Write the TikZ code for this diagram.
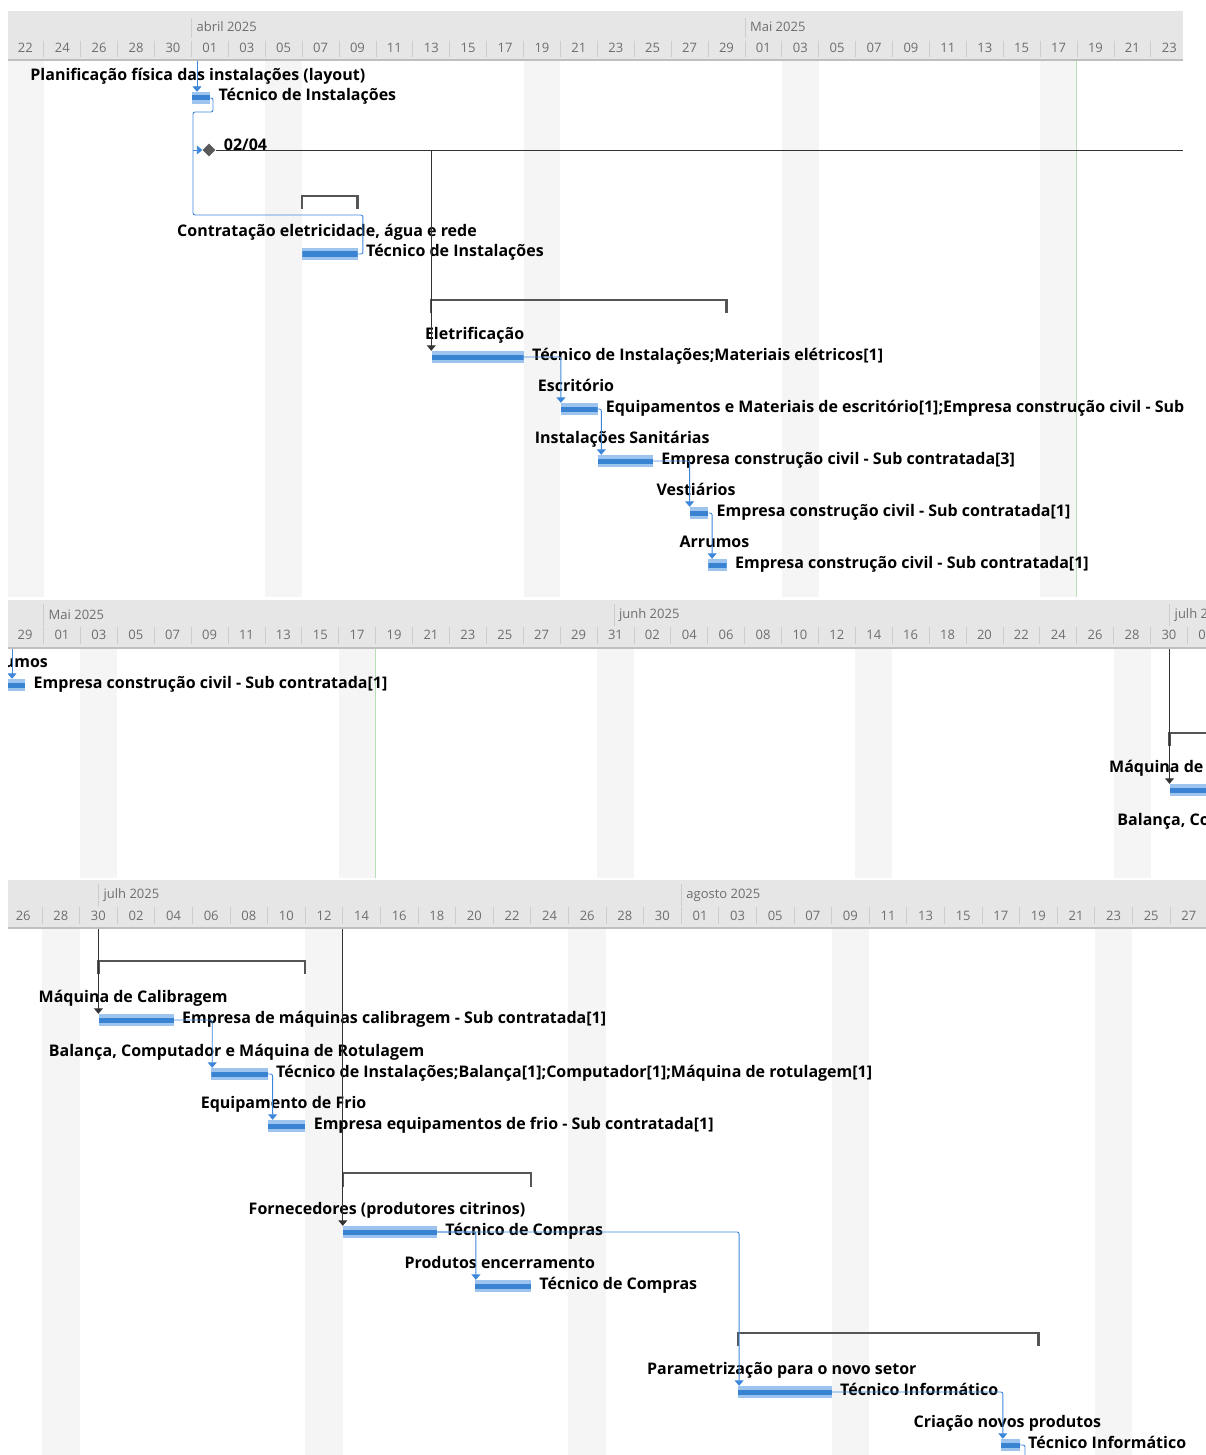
\documentclass[tikz,border=0pt]{standalone}
\usepackage{fontspec}
\setmainfont{Open Sans}
\usetikzlibrary{arrows.meta,positioning,calc,shapes.geometric}
\definecolor{hdrgray}{HTML}{E6E6E6}
\definecolor{hdrtext}{HTML}{6E6E6E}
\definecolor{hdrline}{HTML}{CDCDCD}
\definecolor{wkend}{HTML}{F5F5F5}
\definecolor{barlight}{HTML}{9CC4EE}
\definecolor{bardark}{HTML}{3A82D2}
\definecolor{linkblue}{HTML}{3D87DB}
\definecolor{summgray}{HTML}{555555}
\definecolor{todaygreen}{HTML}{B9DDB4}
\tikzset{
  taskbar/.style={rectangle,inner sep=0pt,minimum height=12pt,fill=barlight,anchor=west,
    path picture={\fill[bardark] ([yshift=2.5pt]path picture bounding box.west) rectangle ([yshift=-2.5pt]path picture bounding box.east);}},
  tname/.style={font=\bfseries\fontsize{16}{19}\selectfont,inner sep=0pt,anchor=base},
  tres/.style={font=\bfseries\fontsize{16}{19}\selectfont,inner sep=0pt,anchor=base west},
  mstone/.style={diamond,fill=black!65,inner sep=0pt,minimum size=13pt},
  blink/.style={draw=linkblue,line width=0.9pt,rounded corners=2pt,-{Triangle[length=5.5pt,width=9pt]}},
  klink/.style={draw=black!80,line width=0.9pt,-{Triangle[length=5.5pt,width=9pt]}},
  summ/.style={draw=summgray,line width=2.2pt},
  hdr/.style={fill=hdrgray},
  hdrbase/.style={draw=black!25,line width=1.2pt},
  daylbl/.style={font=\fontsize{13}{15}\selectfont,text=hdrtext,inner sep=0pt},
  monlbl/.style={font=\fontsize{13}{15}\selectfont,text=hdrtext,inner sep=0pt,anchor=west},
  daysep/.style={draw=hdrline,line width=0.8pt},
  wkband/.style={fill=wkend},
  today/.style={draw=todaygreen,line width=1pt},
}
% bar, name above it, resources to the right
\newcommand\gtask[6]{%
  \node[taskbar,minimum width={(#3-#2)*1pt}] (#1) at (#2,#4) {};
  \node[tname] (#1n) at ([xshift=-3pt,yshift=11pt]#1.north) {#5};
  \node[tres] (#1r) at ([xshift=8pt,yshift=-3pt]#1.east) {#6};
}
\begin{document}
\begin{tikzpicture}[x=1pt,y=-1pt]
\useasboundingbox (0,0) rectangle (1206,1455);

% ---------- panel 1: abril / maio
\begin{scope}
\clip (8,11) rectangle (1183,61);
\fill[hdr] (8,11) rectangle (1183,60);
\foreach \d [count=\i from 0] in {22,24,26,28,30,01,03,05,07,09,11,13,15,17,19,21,23,25,27,29,01,03,05,07,09,11,13,15,17,19,21,23} {
  \node[daylbl] at ({6.9+36.9*\i+18.45},48) {\d};
  \draw[daysep] ({6.9+36.9*\i},41) -- ++(0,16);
}
\foreach \mx/\mt in {191.4/abril 2025,744.9/Mai 2025} {
  \draw[daysep] (\mx,18) -- (\mx,38);
  \node[monlbl] at (\mx+5,27) {\mt};
}
\draw[hdrbase] (8,60) -- (1183,60);
\end{scope}

\begin{scope}
\clip (8,61) rectangle (1183,597);
\foreach \bx in {6.9,265.2,523.5,781.8,1040.1}
  \fill[wkband] (\bx,61) rectangle ++(36.9,536);
\draw[today] (1076.5,61) -- (1076.5,597);

\gtask{plan}{191.4}{209.9}{98}{Planificação física das instalações (layout)}{Técnico de Instalações}
\node[mstone] (mile) at (209,150) {};
\node[tres] (milel) at ([xshift=8pt,yshift=-1pt]mile.east) {02/04};
\gtask{contr}{302.1}{357.5}{254}{Contratação eletricidade, água e rede}{Técnico de Instalações}
\gtask{elet}{431.3}{523.5}{357}{Eletrificação}{Técnico de Instalações;Materiais elétricos[1]}
\gtask{escr}{560.4}{597.3}{409}{Escritório}{Equipamentos e Materiais de escritório[1];Empresa construção civil - Sub}
\gtask{sanit}{597.3}{652.7}{461}{Instalações Sanitárias}{Empresa construção civil - Sub contratada[3]}
\gtask{vest}{689.6}{708.1}{513}{Vestiários}{Empresa construção civil - Sub contratada[1]}
\gtask{arrum}{708.1}{726.5}{565}{Arrumos}{Empresa construção civil - Sub contratada[1]}

\draw[summ] (302.1,209) |- (357.5,196) -- (357.5,209);
\draw[summ] (431.3,313) |- (726.5,300) -- (726.5,313);

\coordinate (p1in) at (197,61);
\coordinate (mlink) at (193,150);
\coordinate (p1right) at (1183,150);
\draw[blink] (p1in) -- (p1in |- plan.north);
\draw[blink,-] (plan.east) -| (213,112) -| (193,215) -| ($(contr.east)+(5,0)$) -- (contr.east);
\draw[blink] (mlink) -- (mile.west);
\draw[klink,-] (mile.east) -- (p1right);
\draw[klink] (elet.north west |- mile.east) -- (elet.north west);
\draw[blink] (elet.east) -| ([xshift=0.5pt]escr.north west);
\draw[blink] (escr.east) -| ([xshift=4pt]sanit.north west);
\draw[blink] (sanit.east) -| (vest.north west);
\draw[blink] (vest.east) -| ([xshift=4pt]arrum.north west);
\end{scope}

% ---------- panel 2: maio / junho
\begin{scope}
\clip (8,600) rectangle (1206,649);
\fill[hdr] (8,600) rectangle (1206,648);
\foreach \d [count=\i from 0] in {29,01,03,05,07,09,11,13,15,17,19,21,23,25,27,29,31,02,04,06,08,10,12,14,16,18,20,22,24,26,28,30,02} {
  \node[daylbl] at ({6.6+36.9*\i+18.45},635) {\d};
  \draw[daysep] ({6.6+36.9*\i},627) -- ++(0,17);
}
\foreach \mx/\mt in {43.5/Mai 2025,613.9/junh 2025,1169.5/julh 2025} {
  \draw[daysep] (\mx,604) -- (\mx,626);
  \node[monlbl] at (\mx+5,615) {\mt};
}
\draw[hdrbase] (8,648) -- (1206,648);
\end{scope}

\begin{scope}
\clip (8,649) rectangle (1206,878);
\foreach \bx in {80.4,338.7,597.0,855.3,1113.6}
  \fill[wkband] (\bx,649) rectangle ++(36.9,229);
\draw[today] (375.6,649) -- (375.6,878);

\gtask{arrumb}{6.6}{25.1}{685}{Arrumos}{Empresa construção civil - Sub contratada[1]}
\gtask{maqb}{1169.5}{1243.3}{790}{Máquina de Calibragem}{}
\gtask{balb}{1280.2}{1335.6}{843}{Balança, Computador e Máquina de Rotulagem}{}
\draw[summ] (1169.5,746) |- (1372.5,733) -- (1372.5,746);

\coordinate (p2in) at (12,649);
\coordinate (p2top) at (1169.5,649);
\draw[blink] (p2in) -- (p2in |- arrumb.north);
\draw[klink] (p2top) -- (maqb.north west);
\end{scope}

% ---------- panel 3: julho / agosto
\begin{scope}
\clip (8,880) rectangle (1206,929);
\fill[hdr] (8,880) rectangle (1206,928);
\foreach \d [count=\i from 0] in {26,28,30,02,04,06,08,10,12,14,16,18,20,22,24,26,28,30,01,03,05,07,09,11,13,15,17,19,21,23,25,27} {
  \node[daylbl] at ({4.4+37.6*\i+18.8},916) {\d};
  \draw[daysep] ({4.4+37.6*\i},907) -- ++(0,17);
}
\foreach \mx/\mt in {98.4/julh 2025,681.2/agosto 2025} {
  \draw[daysep] (\mx,884) -- (\mx,906);
  \node[monlbl] at (\mx+5,895) {\mt};
}
\draw[hdrbase] (8,928) -- (1206,928);
\end{scope}

\begin{scope}
\clip (8,929) rectangle (1206,1455);
\foreach \bx in {42.0,305.2,568.4,831.6,1094.8}
  \fill[wkband] (\bx,929) rectangle ++(37.6,526);

\gtask{maq}{98.4}{173.6}{1020}{Máquina de Calibragem}{Empresa de máquinas calibragem - Sub contratada[1]}
\gtask{bal}{211.2}{267.6}{1074}{Balança, Computador e Máquina de Rotulagem}{Técnico de Instalações;Balança[1];Computador[1];Máquina de rotulagem[1]}
\gtask{frio}{267.6}{305.2}{1126}{Equipamento de Frio}{Empresa equipamentos de frio - Sub contratada[1]}
\gtask{forn}{342.8}{436.8}{1232}{Fornecedores (produtores citrinos)}{Técnico de Compras}
\gtask{prod}{474.4}{530.8}{1286}{Produtos encerramento}{Técnico de Compras}
\gtask{param}{737.6}{831.6}{1392}{Parametrização para o novo setor}{Técnico Informático}
\gtask{criac}{1000.8}{1019.6}{1445}{Criação novos produtos}{Técnico Informático}

\draw[summ] (98.4,974) |- (305.2,961) -- (305.2,974);
\draw[summ] (342.8,1187) |- (530.8,1173) -- (530.8,1187);
\draw[summ] (737.6,1346) |- (1038.4,1333) -- (1038.4,1346);

\coordinate (p3a) at (98.4,929);
\coordinate (p3b) at (342.8,929);
\coordinate (p3out) at (1025,1455);
\draw[klink] (p3a) -- (maq.north west);
\draw[klink] (p3b) -- (forn.north west);
\draw[blink] (maq.east) -| ([xshift=1pt]bal.north west);
\draw[blink] (bal.east) -| ([xshift=5pt]frio.north west);
\draw[blink] (forn.east) -| ([xshift=1.5pt]prod.north west);
\draw[blink] (forn.east) -| ([xshift=1.5pt]param.north west);
\draw[blink] (param.east) -| ([xshift=2pt]criac.north west);
\draw[blink,-] (criac.east) -| (p3out);
\end{scope}
\end{tikzpicture}
\end{document}
